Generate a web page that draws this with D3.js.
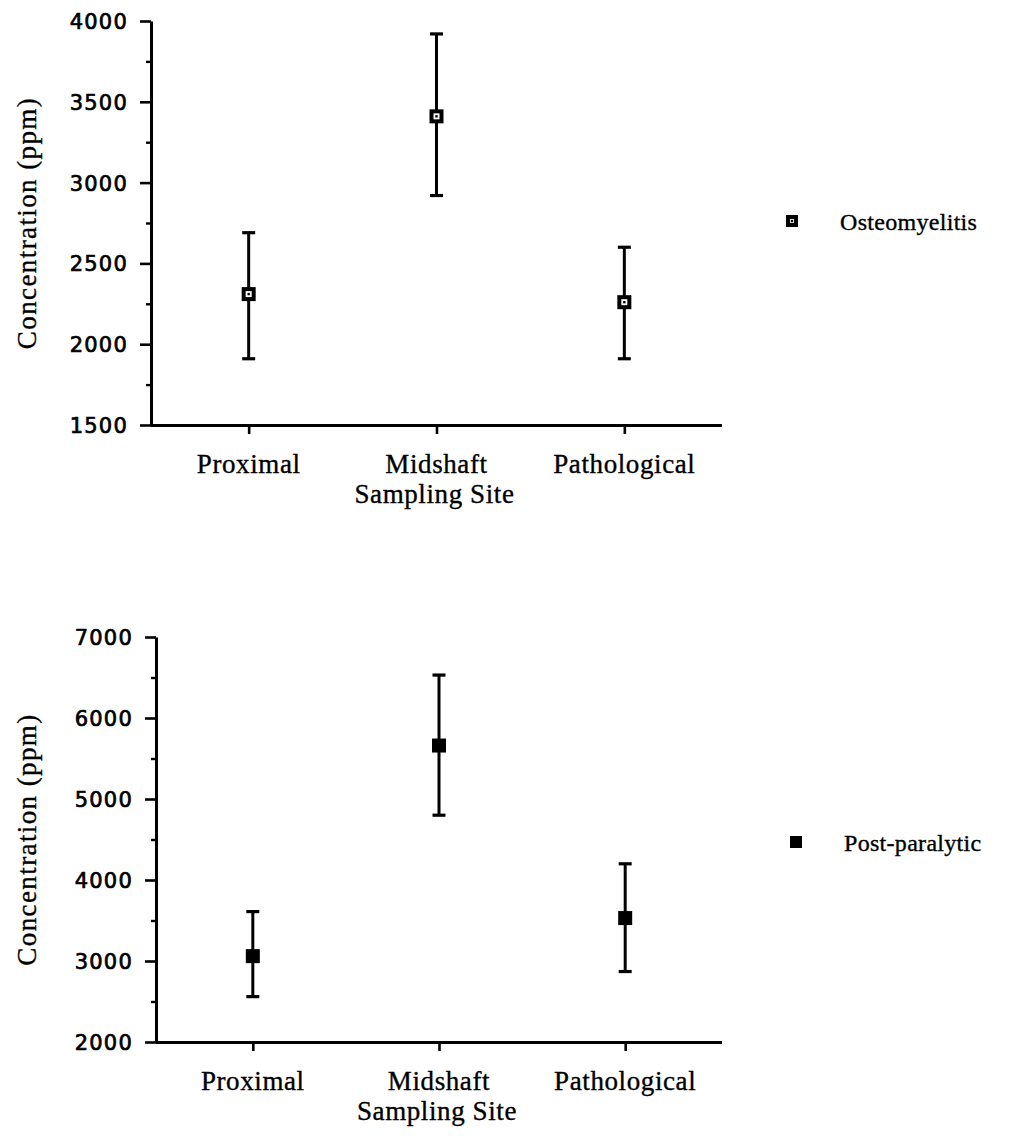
<!DOCTYPE html>
<html><head><meta charset="utf-8">
<script src="https://cdn.jsdelivr.net/npm/d3@7"></script>
<style>body{margin:0;background:#fff}svg{display:block}</style>
</head><body>
<svg id="c" width="1021" height="1139"></svg>
<script>
const categories = ["Proximal", "Midshaft", "Pathological"];
const osteoMean = [2310, 3410, 2260];
const osteoUpper = [2690, 3920, 2600];
const osteoLower = [1910, 2920, 1910];
const postMean = [3060, 5660, 3530];
const postUpper = [3610, 6530, 4200];
const postLower = [2560, 4800, 2870];
const topTicks = [1500, 2000, 2500, 3000, 3500, 4000];
const bottomTicks = [2000, 3000, 4000, 5000, 6000, 7000];
const xTitle = "Sampling Site";
const yTitle = "Concentration (ppm)";
const seriesNames = ["Osteomyelitis", "Post-paralytic"];

const svg = d3.select("#c");
const serif = "'Liberation Serif','Times New Roman',serif";
const sans = "'DejaVu Sans',Verdana,sans-serif";

function panel(cfg){
  const g = svg.append("g");
  const y = d3.scaleLinear().domain(cfg.domain).range([cfg.bottom, cfg.top]);
  const x = d3.scalePoint().domain(categories).range([cfg.left, cfg.right]).padding(0.52);
  const step = cfg.ticks[1]-cfg.ticks[0];
  const minor = cfg.ticks.slice(0,-1).map(t=>t+step/2);
  g.append("g").attr("transform",`translate(${cfg.left},0)`)
    .call(d3.axisLeft(y).tickValues(minor).tickSize(5).tickSizeOuter(0).tickFormat(""))
    .call(a=>a.select(".domain").remove())
    .call(a=>a.selectAll("line").attr("stroke","#000").attr("stroke-width",2.4));
  const ya = g.append("g").attr("transform",`translate(${cfg.left},0)`)
    .call(d3.axisLeft(y).tickValues(cfg.ticks).tickSize(11).tickSizeOuter(0).tickPadding(12).tickFormat(d3.format("d")));
  ya.select(".domain").attr("stroke","#000").attr("stroke-width",3);
  ya.selectAll("line").attr("stroke","#000").attr("stroke-width",2.6);
  ya.selectAll("text").attr("font-family",sans).attr("font-size",21).attr("letter-spacing","1.2px")
    .attr("fill","#000").attr("stroke","#000").attr("stroke-width",0.7).attr("dy","0.36em");
  const xa = g.append("g").attr("transform",`translate(0,${cfg.bottom})`)
    .call(d3.axisBottom(x).tickSize(9).tickSizeOuter(0).tickFormat(""));
  xa.select(".domain").attr("stroke","#000").attr("stroke-width",3)
    .attr("d",`M${cfg.left},0.5H${cfg.right}`);
  xa.selectAll("line").attr("stroke","#000").attr("stroke-width",2.6);
  const tstyle = s=>s.attr("font-family",serif).attr("fill","#000").attr("stroke","#000").attr("stroke-width",0.35);
  g.selectAll(".xl").data(categories).join("text")
    .attr("x",d=>x(d)).attr("y",cfg.bottom+48)
    .attr("text-anchor","middle").attr("font-size",27)
    .attr("letter-spacing","0.6px").call(tstyle).text(d=>d);
  g.append("text").attr("x",x("Midshaft")-2).attr("y",cfg.bottom+78)
    .attr("text-anchor","middle").attr("font-size",27)
    .attr("letter-spacing","0.6px").call(tstyle).text(xTitle);
  g.append("text").attr("transform",`translate(36,${(cfg.top+cfg.bottom)/2}) rotate(-90)`)
    .attr("text-anchor","middle").attr("font-size",27)
    .attr("letter-spacing","1.4px").call(tstyle).text(yTitle);
  const capW = 13;
  const eb = g.selectAll(".eb").data(categories).join("g");
  eb.append("line").attr("x1",d=>x(d)).attr("x2",d=>x(d))
    .attr("y1",(d,i)=>y(cfg.upper[i])).attr("y2",(d,i)=>y(cfg.lower[i]))
    .attr("stroke","#000").attr("stroke-width",3);
  [cfg.upper, cfg.lower].forEach(arr=>{
    eb.append("line").attr("x1",d=>x(d)-capW/2).attr("x2",d=>x(d)+capW/2)
      .attr("y1",(d,i)=>y(arr[i])).attr("y2",(d,i)=>y(arr[i]))
      .attr("stroke","#000").attr("stroke-width",3.2);
  });
  function marker(sel, s){
    if(cfg.filled){
      sel.append("rect").attr("x",-s/2).attr("y",-s/2).attr("width",s).attr("height",s).attr("fill","#000");
    } else {
      sel.append("rect").attr("x",-s/2+2).attr("y",-s/2+2).attr("width",s-4).attr("height",s-4)
        .attr("fill","#fff").attr("stroke","#000").attr("stroke-width",4);
      sel.append("rect").attr("x",-1.2).attr("y",-1.2).attr("width",2.4).attr("height",2.4).attr("fill","#000");
    }
  }
  eb.append("g").attr("transform",(d,i)=>`translate(${x(d)},${y(cfg.mean[i])})`).call(marker, cfg.filled?14:14);
  const lg = g.append("g").attr("transform",`translate(${cfg.legX},${cfg.legY})`);
  lg.append("g").call(marker, 12);
  lg.append("text").attr("x",48).attr("y",9).attr("font-size",24)
    .attr("letter-spacing","0.3px").call(tstyle).text(cfg.name);
}

panel({domain:[1500,4000], ticks:topTicks, top:21, bottom:425, left:151, right:722,
  mean:osteoMean, upper:osteoUpper, lower:osteoLower, filled:false,
  legX:792, legY:221, name:seriesNames[0]});
panel({domain:[2000,7000], ticks:bottomTicks, top:637, bottom:1042, left:156, right:722,
  mean:postMean, upper:postUpper, lower:postLower, filled:true,
  legX:796, legY:842, name:seriesNames[1]});
</script>
</body></html>
